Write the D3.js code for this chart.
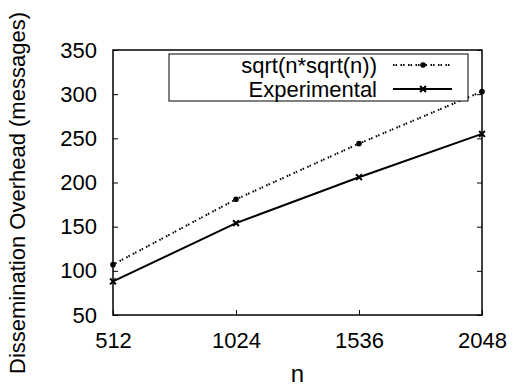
<!DOCTYPE html>
<html>
<head>
<meta charset="utf-8">
<script src="https://cdn.jsdelivr.net/npm/d3@7"></script>
<style>
  body { margin: 0; background: #fff; }
  svg { display: block; }
  text { font-family: "Liberation Sans", Arial, sans-serif; fill: #000; }
</style>
</head>
<body>
<svg id="chart"></svg>
<script>
// values
const nValues = [512, 1024, 1536, 2048];
const theoryValues = [107, 181, 244, 303];
const experimentalValues = [88, 154, 206, 255];
const yTicks = [50, 100, 150, 200, 250, 300, 350];
const seriesNames = ["sqrt(n*sqrt(n))", "Experimental"];

const width = 512;
const height = 390;
const margin = { top: 50, right: 30, bottom: 75, left: 113 };
const innerWidth = width - margin.left - margin.right;
const innerHeight = height - margin.top - margin.bottom;

const svg = d3.select("#chart").attr("width", width).attr("height", height);

const g = svg.append("g")
  .attr("transform", `translate(${margin.left},${margin.top})`);

const xScale = d3.scaleLinear().domain([512, 2048]).range([0, innerWidth]);
const yScale = d3.scaleLinear().domain([50, 350]).range([innerHeight, 0]);

// axes with inward ticks
const xAxis = d3.axisBottom(xScale).tickValues(nValues).tickSize(-5).tickPadding(17)
  .tickFormat(d3.format("d"));
const gx = g.append("g").attr("transform", `translate(0,${innerHeight})`).call(xAxis);
gx.select(".domain").remove();
gx.selectAll("line").attr("stroke", "#000");
gx.selectAll("text").attr("font-size", "22px").attr("dy", "0.71em");

const yAxis = d3.axisLeft(yScale).tickValues(yTicks).tickSize(-5).tickPadding(16);
const gy = g.append("g").call(yAxis);
gy.select(".domain").remove();
gy.selectAll("line").attr("stroke", "#000");
gy.selectAll("text").attr("font-size", "22px");

// mirrored ticks on the right (no labels)
const gyr = g.append("g").attr("transform", `translate(${innerWidth},0)`)
  .call(d3.axisRight(yScale).tickValues(yTicks).tickSize(-5));
gyr.select(".domain").remove();
gyr.selectAll("text").remove();
gyr.selectAll("line").attr("stroke", "#000");

// frame
g.append("rect")
  .attr("width", innerWidth)
  .attr("height", innerHeight)
  .attr("fill", "none")
  .attr("stroke", "#000")
  .attr("stroke-width", 1.5);

// axis labels
svg.append("text")
  .attr("x", margin.left + innerWidth / 2)
  .attr("y", 382)
  .attr("text-anchor", "middle")
  .attr("font-size", "24px")
  .text("n");

svg.append("text")
  .attr("transform", "translate(25,193) rotate(-90)")
  .attr("text-anchor", "middle")
  .attr("font-size", "22px")
  .text("Dissemination Overhead (messages)");

const line = d3.line().x((d) => xScale(d[0])).y((d) => yScale(d[1]));
const dotted = "1.5,1,1.5,3.5";

const theory = nValues.map((n, i) => [n, theoryValues[i]]);
const experimental = nValues.map((n, i) => [n, experimentalValues[i]]);

g.append("path")
  .datum(theory)
  .attr("d", line)
  .attr("fill", "none")
  .attr("stroke", "#000")
  .attr("stroke-width", 2)
  .attr("stroke-dasharray", dotted);

g.append("path")
  .datum(experimental)
  .attr("d", line)
  .attr("fill", "none")
  .attr("stroke", "#000")
  .attr("stroke-width", 2);

// markers
g.selectAll("circle.pt")
  .data(theory)
  .enter()
  .append("circle")
  .attr("class", "pt")
  .attr("cx", (d) => xScale(d[0]))
  .attr("cy", (d) => yScale(d[1]))
  .attr("r", 2.8)
  .attr("fill", "#000");

const cross = d3.symbol().type(d3.symbolX).size(24);
g.selectAll("path.xm")
  .data(experimental)
  .enter()
  .append("path")
  .attr("class", "xm")
  .attr("d", cross)
  .attr("transform", (d) => `translate(${xScale(d[0])},${yScale(d[1])})`)
  .attr("stroke", "#000")
  .attr("stroke-width", 2)
  .attr("fill", "none");

// legend
const legend = svg.append("g");
legend.append("rect")
  .attr("x", 169)
  .attr("y", 54)
  .attr("width", 299)
  .attr("height", 47)
  .attr("fill", "#fff")
  .attr("stroke", "#000")
  .attr("stroke-width", 1);

seriesNames.forEach((name, i) => {
  const cy = 65 + i * 24;
  legend.append("text")
    .attr("x", 377)
    .attr("y", cy)
    .attr("dy", "0.35em")
    .attr("text-anchor", "end")
    .attr("font-size", "22px")
    .text(name);
  legend.append("line")
    .attr("x1", 393)
    .attr("x2", 452)
    .attr("y1", cy)
    .attr("y2", cy)
    .attr("stroke", "#000")
    .attr("stroke-width", 2)
    .attr("stroke-dasharray", i === 0 ? dotted : null);
  if (i === 0) {
    legend.append("circle").attr("cx", 423).attr("cy", cy).attr("r", 2.8).attr("fill", "#000");
  } else {
    legend.append("path").attr("d", cross)
      .attr("transform", `translate(423,${cy})`)
      .attr("stroke", "#000").attr("stroke-width", 2).attr("fill", "none");
  }
});
</script>
</body>
</html>
